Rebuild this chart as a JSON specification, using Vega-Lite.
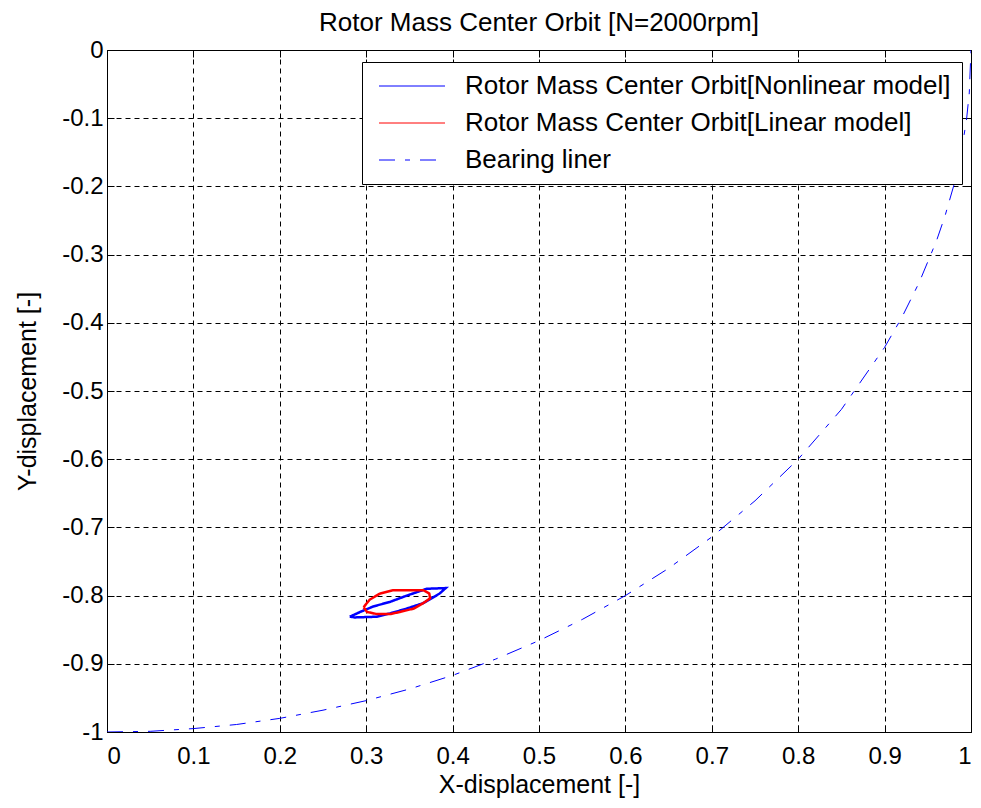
{
  "$schema": "https://vega.github.io/schema/vega-lite/v6.json",
  "width": 864,
  "height": 682,
  "autosize": {"type": "none"},
  "padding": {"left": 107, "top": 50, "right": 10, "bottom": 76},
  "background": "white",
  "title": {"text": "Rotor Mass Center Orbit [N=2000rpm]", "fontSize": 26, "font": "Liberation Sans", "fontWeight": "normal", "color": "black", "offset": 2},
  "config": {
    "view": {"stroke": "black", "strokeWidth": 1},
    "axis": {
      "labelFont": "Liberation Sans", "labelFontSize": 24, "labelColor": "black",
      "titleFont": "Liberation Sans", "titleFontSize": 25, "titleFontWeight": "normal", "titleColor": "black",
      "domainColor": "black", "tickColor": "black", "tickSize": -7,
      "gridColor": "black", "gridOpacity": 1, "gridDash": [5, 4], "gridWidth": 1
    },
    "legend": {
      "labelFont": "Liberation Sans", "labelFontSize": 26, "labelColor": "black", "labelLimit": 0,
      "fillColor": "white", "strokeColor": "black", "padding": 11,
      "symbolType": "M-3,0H3", "symbolStrokeWidth": 1, "symbolSize": 484, "symbolOffset": 26,
      "labelOffset": 40, "rowPadding": 11
    }
  },
  "data": {"values": [
    {"series": "Rotor Mass Center Orbit[Nonlinear model]", "i": 1, "x": 0.281, "y": -0.831},
    {"series": "Rotor Mass Center Orbit[Nonlinear model]", "i": 2, "x": 0.287, "y": -0.832},
    {"series": "Rotor Mass Center Orbit[Nonlinear model]", "i": 3, "x": 0.312, "y": -0.831},
    {"series": "Rotor Mass Center Orbit[Nonlinear model]", "i": 4, "x": 0.328, "y": -0.826},
    {"series": "Rotor Mass Center Orbit[Nonlinear model]", "i": 5, "x": 0.347, "y": -0.819},
    {"series": "Rotor Mass Center Orbit[Nonlinear model]", "i": 6, "x": 0.366, "y": -0.811},
    {"series": "Rotor Mass Center Orbit[Nonlinear model]", "i": 7, "x": 0.385, "y": -0.797},
    {"series": "Rotor Mass Center Orbit[Nonlinear model]", "i": 8, "x": 0.392, "y": -0.789},
    {"series": "Rotor Mass Center Orbit[Nonlinear model]", "i": 9, "x": 0.370, "y": -0.790},
    {"series": "Rotor Mass Center Orbit[Nonlinear model]", "i": 10, "x": 0.347, "y": -0.800},
    {"series": "Rotor Mass Center Orbit[Nonlinear model]", "i": 11, "x": 0.328, "y": -0.809},
    {"series": "Rotor Mass Center Orbit[Nonlinear model]", "i": 12, "x": 0.308, "y": -0.816},
    {"series": "Rotor Mass Center Orbit[Nonlinear model]", "i": 13, "x": 0.293, "y": -0.824},
    {"series": "Rotor Mass Center Orbit[Nonlinear model]", "i": 14, "x": 0.281, "y": -0.831},
    {"series": "Rotor Mass Center Orbit[Linear model]", "i": 1, "x": 0.297, "y": -0.817},
    {"series": "Rotor Mass Center Orbit[Linear model]", "i": 2, "x": 0.304, "y": -0.806},
    {"series": "Rotor Mass Center Orbit[Linear model]", "i": 3, "x": 0.316, "y": -0.797},
    {"series": "Rotor Mass Center Orbit[Linear model]", "i": 4, "x": 0.331, "y": -0.792},
    {"series": "Rotor Mass Center Orbit[Linear model]", "i": 5, "x": 0.366, "y": -0.792},
    {"series": "Rotor Mass Center Orbit[Linear model]", "i": 6, "x": 0.373, "y": -0.797},
    {"series": "Rotor Mass Center Orbit[Linear model]", "i": 7, "x": 0.374, "y": -0.804},
    {"series": "Rotor Mass Center Orbit[Linear model]", "i": 8, "x": 0.366, "y": -0.811},
    {"series": "Rotor Mass Center Orbit[Linear model]", "i": 9, "x": 0.355, "y": -0.819},
    {"series": "Rotor Mass Center Orbit[Linear model]", "i": 10, "x": 0.339, "y": -0.824},
    {"series": "Rotor Mass Center Orbit[Linear model]", "i": 11, "x": 0.328, "y": -0.827},
    {"series": "Rotor Mass Center Orbit[Linear model]", "i": 12, "x": 0.312, "y": -0.827},
    {"series": "Rotor Mass Center Orbit[Linear model]", "i": 13, "x": 0.301, "y": -0.824},
    {"series": "Rotor Mass Center Orbit[Linear model]", "i": 14, "x": 0.297, "y": -0.817},
    {"series": "Bearing liner", "i": 1, "x": 0.0, "y": -1.0},
    {"series": "Bearing liner", "i": 2, "x": 0.05, "y": -0.999},
    {"series": "Bearing liner", "i": 3, "x": 0.1, "y": -0.995},
    {"series": "Bearing liner", "i": 4, "x": 0.15, "y": -0.989},
    {"series": "Bearing liner", "i": 5, "x": 0.2, "y": -0.980},
    {"series": "Bearing liner", "i": 6, "x": 0.25, "y": -0.968},
    {"series": "Bearing liner", "i": 7, "x": 0.3, "y": -0.954},
    {"series": "Bearing liner", "i": 8, "x": 0.35, "y": -0.937},
    {"series": "Bearing liner", "i": 9, "x": 0.4, "y": -0.917},
    {"series": "Bearing liner", "i": 10, "x": 0.45, "y": -0.893},
    {"series": "Bearing liner", "i": 11, "x": 0.5, "y": -0.866},
    {"series": "Bearing liner", "i": 12, "x": 0.55, "y": -0.835},
    {"series": "Bearing liner", "i": 13, "x": 0.6, "y": -0.800},
    {"series": "Bearing liner", "i": 14, "x": 0.65, "y": -0.760},
    {"series": "Bearing liner", "i": 15, "x": 0.7, "y": -0.714},
    {"series": "Bearing liner", "i": 16, "x": 0.75, "y": -0.661},
    {"series": "Bearing liner", "i": 17, "x": 0.8, "y": -0.600},
    {"series": "Bearing liner", "i": 18, "x": 0.85, "y": -0.527},
    {"series": "Bearing liner", "i": 19, "x": 0.9, "y": -0.436},
    {"series": "Bearing liner", "i": 20, "x": 0.92, "y": -0.392},
    {"series": "Bearing liner", "i": 21, "x": 0.94, "y": -0.341},
    {"series": "Bearing liner", "i": 22, "x": 0.96, "y": -0.280},
    {"series": "Bearing liner", "i": 23, "x": 0.97, "y": -0.243},
    {"series": "Bearing liner", "i": 24, "x": 0.98, "y": -0.199},
    {"series": "Bearing liner", "i": 25, "x": 0.99, "y": -0.141},
    {"series": "Bearing liner", "i": 26, "x": 0.995, "y": -0.100},
    {"series": "Bearing liner", "i": 27, "x": 0.998, "y": -0.063},
    {"series": "Bearing liner", "i": 28, "x": 1.0, "y": 0.0}
  ]},
  "encoding": {
    "order": {"field": "i", "type": "quantitative"},
    "color": {"field": "series", "type": "nominal",
      "scale": {"domain": ["Rotor Mass Center Orbit[Nonlinear model]", "Rotor Mass Center Orbit[Linear model]", "Bearing liner"], "range": ["#0000ff", "#ff0000", "#0000ff"]},
      "legend": {"title": null, "orient": "none", "legendX": 255, "legendY": 12, "symbolStrokeWidth": 1}},
    "strokeDash": {"field": "series", "type": "nominal",
      "scale": {"domain": ["Rotor Mass Center Orbit[Nonlinear model]", "Rotor Mass Center Orbit[Linear model]", "Bearing liner"], "range": [[1, 0], [1, 0], [16, 10, 5, 10]]},
      "legend": {"title": null, "orient": "none", "legendX": 255, "legendY": 12, "symbolStrokeWidth": 1}}
  },
  "layer": [
    {
      "transform": [{"filter": "datum.series == 'Bearing liner'"}],
      "mark": {"type": "line", "clip": true, "strokeWidth": 1},
      "encoding": {
        "x": {"field": "x", "type": "quantitative",
          "scale": {"domain": [0, 1], "nice": false},
          "axis": {"title": "X-displacement [-]", "values": [0, 0.1, 0.2, 0.3, 0.4, 0.5, 0.6, 0.7, 0.8, 0.9, 1],
            "labelExpr": "datum.value == 0 ? '0' : datum.value == 1 ? '1' : format(datum.value, '.1f')",
            "labelPadding": 19, "titlePadding": 4}},
        "y": {"field": "y", "type": "quantitative",
          "scale": {"domain": [-1, 0], "nice": false},
          "axis": {"title": "Y-displacement [-]", "values": [-1, -0.9, -0.8, -0.7, -0.6, -0.5, -0.4, -0.3, -0.2, -0.1, 0],
            "labelExpr": "datum.value == 0 ? '0' : datum.value == -1 ? '-1' : '-' + format(abs(datum.value), '.1f')",
            "labelPadding": 11, "titlePadding": 21}}
      }
    },
    {
      "transform": [{"filter": "datum.series != 'Bearing liner'"}],
      "mark": {"type": "line", "clip": true, "strokeWidth": 2.5},
      "encoding": {
        "x": {"field": "x", "type": "quantitative",
          "axis": {"orient": "top", "title": null, "labels": false, "grid": false, "domain": false, "values": [0, 0.1, 0.2, 0.3, 0.4, 0.5, 0.6, 0.7, 0.8, 0.9, 1]}},
        "y": {"field": "y", "type": "quantitative",
          "axis": {"orient": "right", "title": null, "labels": false, "grid": false, "domain": false, "values": [-1, -0.9, -0.8, -0.7, -0.6, -0.5, -0.4, -0.3, -0.2, -0.1, 0]}}
      }
    }
  ],
  "resolve": {"axis": {"x": "independent", "y": "independent"}}
}
